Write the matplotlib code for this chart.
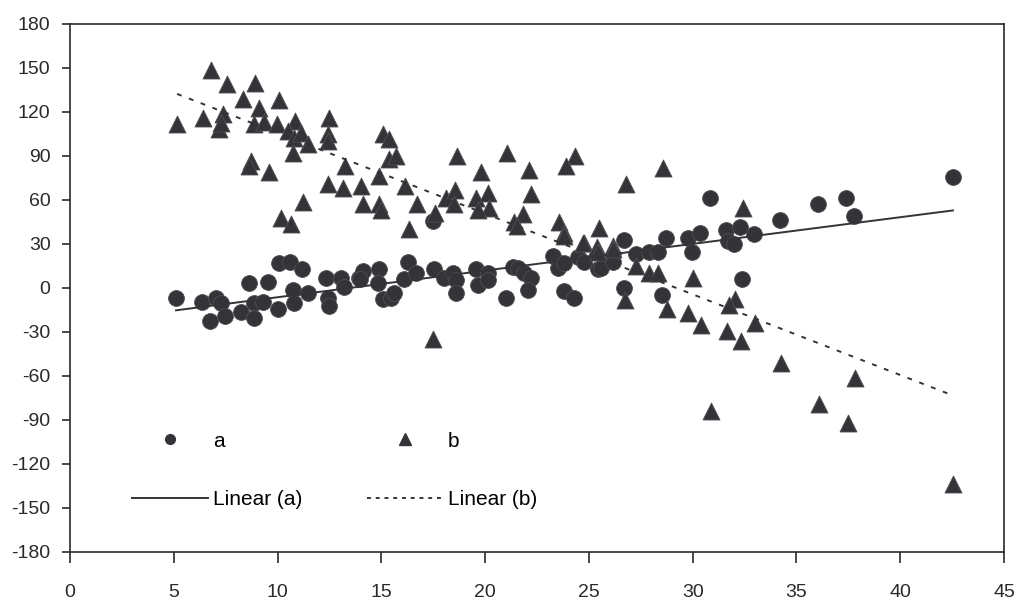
import numpy as np
import matplotlib
matplotlib.use("Agg")
import matplotlib.pyplot as plt
from matplotlib.lines import Line2D

plt.rcParams['font.family'] = ['Liberation Sans', 'DejaVu Sans']
plt.rcParams['axes.unicode_minus'] = False

# series a (circles)
a_x = [5.11, 6.37, 6.75, 7.04, 7.28, 7.47, 8.24, 8.62, 8.86, 8.86, 9.30, 9.54,
       10.07, 10.60, 11.18, 10.02, 10.74, 10.79, 11.47, 12.33, 12.43, 12.48,
       13.06, 13.20, 13.92, 14.12, 13.97, 14.89, 14.84, 15.08, 15.47, 15.61,
       16.28, 16.09, 16.67, 17.54, 17.49, 18.02, 18.45, 18.60, 18.60, 19.56,
       19.66, 20.14, 20.14, 21.01, 21.34, 21.58, 21.87, 22.21, 22.07, 23.27,
       23.51, 23.80, 23.80, 24.28, 24.48, 24.76, 25.44, 25.58, 26.16, 26.69,
       26.69, 27.27, 27.90, 28.33, 28.52, 28.71, 29.77, 29.97, 30.35, 30.83,
       31.61, 31.70, 31.99, 32.28, 32.38, 32.95, 34.21, 36.04, 37.39, 37.77,
       42.54]
a_y = [-6.5, -9.9, -22.8, -6.5, -10.5, -19.4, -16.7, 3.1, -10.5, -20.8, -9.9, 4.4,
       16.7, 17.4, 12.6, -14.6, -1.7, -10.5, -3.7, 7.1, -6.5, -12.6,
       7.1, 1.0, 7.1, 11.9, 5.8, 12.6, 3.7, -7.8, -7.1, -3.1,
       17.4, 5.8, 9.9, 12.6, 45.9, 7.1, 9.9, 5.1, -3.7, 12.6,
       1.7, 9.9, 5.1, -6.5, 14.0, 13.3, 10.5, 6.5, -1.7, 22.1,
       13.3, 16.7, -2.4, -6.5, 20.8, 17.4, 12.6, 13.3, 17.4, 33.0,
       0.3, 23.5, 24.2, 24.2, -5.1, 34.4, 34.4, 24.8, 37.8, 61.6,
       39.8, 32.3, 30.3, 41.9, 5.8, 37.1, 46.6, 57.5, 61.6, 49.3,
       75.9]

# series b (triangles)
b_x = [5.16, 6.79, 6.41, 7.37, 7.18, 7.28, 7.56, 8.91, 8.33, 9.11, 8.86, 9.35,
       10.07, 9.97, 10.84, 10.50, 10.79, 11.13, 11.47, 10.74, 12.48, 12.43,
       12.43, 13.25, 8.72, 8.62, 9.59, 12.43, 13.15, 11.23, 10.17, 10.65,
       14.02, 15.08, 15.37, 15.37, 15.71, 14.89, 14.12, 14.89, 14.98, 16.14,
       16.72, 16.33, 17.59, 18.65, 18.12, 18.55, 18.50, 19.80, 19.56, 20.14,
       20.19, 19.66, 21.05, 22.11, 22.21, 21.82, 21.39, 21.54, 24.33, 23.90,
       23.56, 23.80, 25.49, 24.76, 25.39, 26.16, 26.79, 28.57, 27.27, 27.90,
       28.33, 26.74, 28.76, 29.77, 30.40, 30.02, 32.42, 32.04, 31.75, 33.00,
       31.65, 32.33, 34.26, 37.82, 30.88, 36.09, 37.48, 42.54, 17.49, 23.80,
       24.71, 25.44, 26.16]
b_y = [111.9, 148.7, 116.0, 118.7, 108.5, 112.6, 139.2, 139.9, 129.0, 122.8, 111.9, 113.3,
       128.3, 111.9, 114.0, 107.2, 102.4, 105.8, 98.3, 92.2, 116.0, 105.1,
       100.4, 83.4, 86.8, 83.4, 79.3, 71.1, 68.4, 58.9, 48.0, 43.9,
       69.8, 105.1, 101.7, 88.1, 90.2, 76.6, 57.5, 57.5, 53.4, 69.8,
       57.5, 40.5, 51.4, 90.2, 61.6, 67.0, 57.5, 79.3, 61.6, 65.0,
       54.8, 53.4, 92.2, 80.6, 64.3, 50.7, 45.3, 42.5, 90.2, 83.4,
       45.3, 37.8, 41.2, 31.0, 27.6, 28.9, 71.1, 82.0, 15.3, 10.5,
       9.9, -8.5, -14.6, -17.4, -25.5, 7.1, 54.8, -7.8, -11.9, -24.2,
       -29.6, -36.4, -51.4, -61.6, -84.0, -79.3, -92.2, -133.7, -35.0, 35.7,
       31.0, 24.2, 26.9]

color = '#343438'
axis_col = '#2a2a2a'

fig = plt.figure(figsize=(10.17, 5.99), dpi=100)
ax = fig.add_axes([0.0688, 0.0785, 0.9184, 0.8815])

ax.scatter(a_x, a_y, s=130, marker='o', color=color, edgecolors='#505054',
           linewidths=0.6, zorder=3)
ax.scatter(b_x, b_y, s=150, marker='^', color=color, edgecolors='#505054',
           linewidths=0.6, zorder=3)

# linear trend lines
xa = np.array([min(a_x), max(a_x)])
pa = np.polyfit(a_x, a_y, 1)
ax.plot(xa, np.polyval(pa, xa), color=color, lw=1.4, zorder=4)
xb = np.array([min(b_x), max(b_x)])
pb = np.polyfit(b_x, b_y, 1)
ax.plot(xb, np.polyval(pb, xb), color=color, lw=1.4, dashes=(2.5, 4), zorder=4)

ax.set_xlim(0, 45)
ax.set_ylim(-180, 180)
ax.set_xticks(range(0, 46, 5))
ax.set_yticks(range(-180, 181, 30))
ax.tick_params(direction='out', width=1.2, labelsize=14, colors=axis_col)
ax.tick_params(axis='y', length=6, pad=8)
ax.tick_params(axis='x', length=8, pad=15)
for s in ax.spines.values():
    s.set_color(axis_col)
    s.set_linewidth(1.2)

handles = [
    Line2D([], [], ls='none', marker='o', ms=7, color=color),
    Line2D([], [], color=color, lw=1.4),
    Line2D([], [], ls='none', marker='^', ms=8.5, color=color),
    Line2D([], [], color=color, lw=1.4, dashes=(2, 2.5)),
]
labels = ['a', 'Linear (a)', 'b', 'Linear (b)']
ax.legend(handles, labels, ncol=2, frameon=False, loc='upper left',
          bbox_to_anchor=(0.0664, 0.228), borderaxespad=0, borderpad=0,
          handlelength=3.65, handletextpad=0.24, columnspacing=3.1,
          labelspacing=1.9, fontsize=15)

fig.savefig('out.png', dpi=100)
